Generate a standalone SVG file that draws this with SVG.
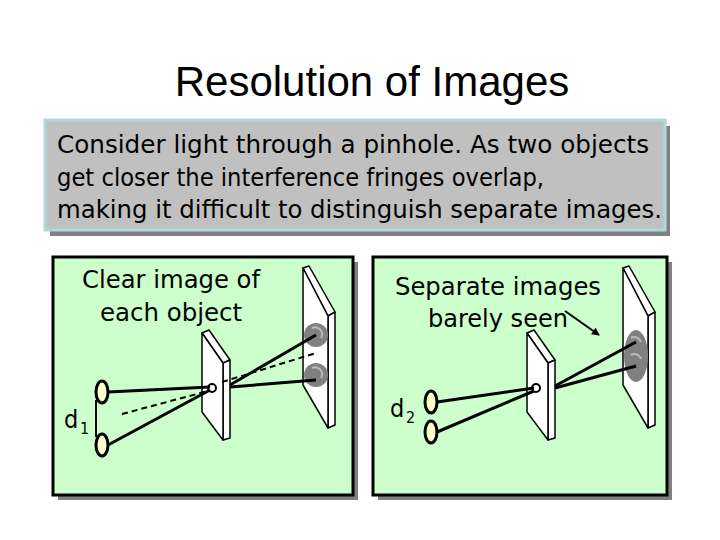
<svg xmlns="http://www.w3.org/2000/svg" width="720" height="540" viewBox="0 0 720 540">
<style>
.t{font-family:"DejaVu Sans Condensed","DejaVu Sans",Verdana,sans-serif;fill:#000}
.panel{fill:#ccffcc;stroke:#000;stroke-width:3}
.shadow{fill:#808080}
.plate{fill:#fff;stroke:#000;stroke-width:1.5;stroke-linejoin:round}
.obj{fill:#ffffcc;stroke:#000;stroke-width:3}
.ray{stroke:#000;stroke-width:3;fill:none}
.dash{stroke:#000;stroke-width:2;stroke-dasharray:6,4;fill:none}
</style>
<defs>
<marker id="ah" markerWidth="8" markerHeight="8" refX="7" refY="4" orient="auto" markerUnits="userSpaceOnUse"><path d="M0,0 L8,4 L0,8 z" fill="#000"/></marker>
</defs>
<rect width="720" height="540" fill="#fff"/>
<text x="372" y="96" text-anchor="middle" font-family="Liberation Sans,Arial,sans-serif" font-size="42">Resolution of Images</text>
<g id="intro">
<rect x="50" y="126" width="620" height="110" class="shadow"/>
<rect x="45" y="120" width="620" height="110" fill="#c0c0c0" stroke="#b0d8dc" stroke-width="3"/>
<text class="t" font-size="25" x="57" y="153" textLength="592" lengthAdjust="spacingAndGlyphs">Consider light through a pinhole. As two objects</text>
<text class="t" font-size="25" x="57" y="186" textLength="487" lengthAdjust="spacingAndGlyphs">get closer the interference fringes overlap,</text>
<text class="t" font-size="25" x="57" y="218" textLength="605" lengthAdjust="spacingAndGlyphs">making it difficult to distinguish separate images.</text>
</g>
<g id="panel1">
<rect x="58" y="262" width="300" height="238" class="shadow"/>
<rect x="53" y="257" width="300" height="238" class="panel"/>
<text class="t" font-size="25" x="171" y="288" text-anchor="middle" textLength="178" lengthAdjust="spacingAndGlyphs">Clear image of</text>
<text class="t" font-size="25" x="171" y="321" text-anchor="middle" textLength="142" lengthAdjust="spacingAndGlyphs">each object</text>
<path class="plate" d="M202,333 L209,330 L230,360 L223,363 Z"/>
<path class="plate" d="M223,363 L230,360 L230,438 L223,440 Z"/>
<path class="plate" d="M202,333 L223,363 L223,440 L202,412 Z"/>
<circle cx="212" cy="388" r="4" fill="#fff" stroke="#000" stroke-width="2"/>
<path class="plate" d="M303,268 L309,266 L335,312 L328,316 Z"/>
<path class="plate" d="M328,316 L335,312 L335,425 L328,428 Z"/>
<path class="plate" d="M303,268 L328,316 L328,428 L303,385 Z"/>
<circle cx="316" cy="335" r="12" fill="#808080"/>
<path d="M312,328 A7,7 0 0 1 321,338" stroke="#bbb" stroke-width="2" fill="none"/>
<circle cx="316" cy="375" r="12" fill="#808080"/>
<path d="M312,368 A7,7 0 0 1 321,378" stroke="#bbb" stroke-width="2" fill="none"/>
<ellipse cx="102" cy="392" rx="6" ry="11" class="obj"/>
<ellipse cx="102" cy="445" rx="6" ry="11" class="obj"/>
<line x1="96" y1="400" x2="96" y2="437" stroke="#000" stroke-width="2"/>
<text class="t" font-size="25" x="64" y="428">d</text>
<text class="t" font-size="16" x="80" y="434">1</text>
</g>
<g id="panel2">
<rect x="378" y="262" width="294" height="238" class="shadow"/>
<rect x="373" y="257" width="294" height="238" class="panel"/>
<text class="t" font-size="25" x="498" y="295" text-anchor="middle" textLength="206" lengthAdjust="spacingAndGlyphs">Separate images</text>
<text class="t" font-size="25" x="498" y="327" text-anchor="middle" textLength="140" lengthAdjust="spacingAndGlyphs">barely seen</text>
<path class="plate" d="M527,333 L534,330 L555,360 L548,363 Z"/>
<path class="plate" d="M548,363 L555,360 L555,438 L548,440 Z"/>
<path class="plate" d="M527,333 L548,363 L548,440 L527,412 Z"/>
<circle cx="536" cy="388" r="4" fill="#fff" stroke="#000" stroke-width="2"/>
<path class="plate" d="M623,268 L629,266 L655,312 L648,316 Z"/>
<path class="plate" d="M648,316 L655,312 L655,425 L648,428 Z"/>
<path class="plate" d="M623,268 L648,316 L648,428 L623,385 Z"/>
<ellipse cx="636" cy="356" rx="12" ry="26" fill="#808080"/>
<path d="M631,338 A7,7 0 0 1 641,342" stroke="#bbb" stroke-width="2" fill="none"/>
<path d="M631,355 A7,7 0 0 1 641,359" stroke="#bbb" stroke-width="2" fill="none"/>
<ellipse cx="431" cy="402" rx="6" ry="11" class="obj"/>
<ellipse cx="431" cy="432" rx="6" ry="11" class="obj"/>
<text class="t" font-size="25" x="390" y="417">d</text>
<text class="t" font-size="16" x="406" y="423">2</text>
</g>
<g id="connectors">
<line class="ray" x1="108" y1="392" x2="210" y2="387"/>
<line class="ray" x1="108" y1="445" x2="210" y2="390"/>
<line class="ray" x1="230" y1="385" x2="316" y2="335"/>
<line class="ray" x1="230" y1="387" x2="316" y2="380"/>
<line class="dash" x1="122" y1="414" x2="208" y2="391"/>
<line class="dash" x1="222" y1="382" x2="316" y2="353"/>
<line class="ray" x1="437" y1="402" x2="534" y2="388"/>
<line class="ray" x1="437" y1="432" x2="534" y2="391"/>
<line class="ray" x1="555" y1="386" x2="636" y2="342"/>
<line class="ray" x1="555" y1="388" x2="636" y2="366"/>
<line x1="565" y1="311" x2="599" y2="335" stroke="#000" stroke-width="2" marker-end="url(#ah)"/>
</g>
</svg>
